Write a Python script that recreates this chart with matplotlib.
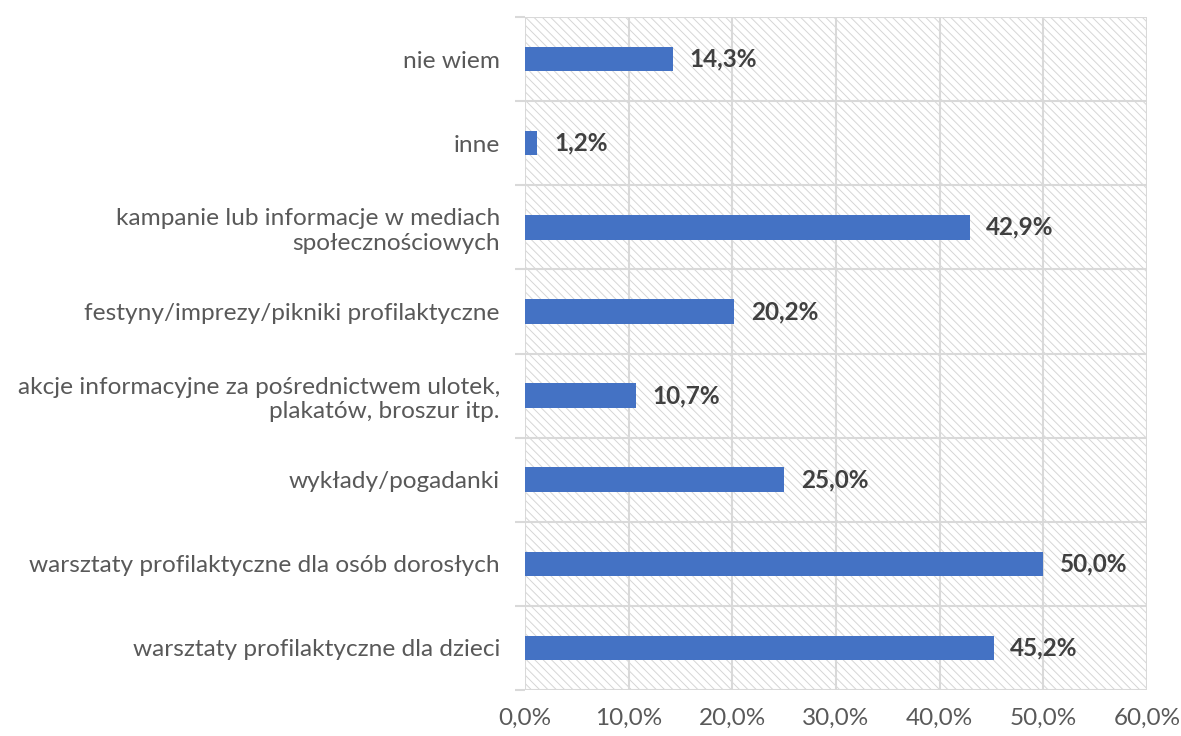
import matplotlib.pyplot as plt
import numpy as np

# kategorie od dołu do góry
kategorie = [
    "warsztaty profilaktyczne dla dzieci",
    "warsztaty profilaktyczne dla osób dorosłych",
    "wykłady/pogadanki",
    "akcje informacyjne za pośrednictwem ulotek,\nplakatów, broszur itp.",
    "festyny/imprezy/pikniki profilaktyczne",
    "kampanie lub informacje w mediach\nspołecznościowych",
    "inne",
    "nie wiem",
]
wartosci = [45.2, 50.0, 25.0, 10.7, 20.2, 42.9, 1.2, 14.3]
xticki = [0, 10, 20, 30, 40, 50, 60]

plt.rcParams['font.family'] = ['Lato', 'DejaVu Sans']
plt.rcParams['hatch.linewidth'] = 0.7

fig = plt.figure(figsize=(11.81, 7.36), dpi=100)
ax = fig.add_axes([0.4445, 0.0625, 0.9712 - 0.4445, 0.9769 - 0.0625])

# tło w ukośne paski
tlo = plt.Rectangle((0, 0), 1, 1, transform=ax.transAxes, facecolor='white',
                    edgecolor='#d6d6d6', linewidth=0, hatch='\\\\\\\\', zorder=0)
ax.add_patch(tlo)

y = np.arange(len(kategorie))
ax.barh(y, wartosci, height=0.29, color='#4472C4', zorder=3)

for yi, v in zip(y, wartosci):
    ax.annotate(f"{v:.1f}%".replace('.', ','), (v, yi), xytext=(12, 0),
                textcoords='offset points', va='center', ha='left',
                fontsize=17.5, fontweight='bold', color='#404040', zorder=4)

ax.set_xlim(0, 60)
ax.set_ylim(-0.5, len(kategorie) - 0.5)
ax.set_xticks(xticki)
ax.set_xticklabels([f"{t:.1f}%".replace('.', ',') for t in xticki])
ax.set_yticks(y)
ax.set_yticklabels(kategorie, fontsize=17.6, color='#595959')
ax.set_yticks(np.arange(-0.5, len(kategorie), 1), minor=True)

ax.tick_params(axis='x', length=0, pad=13, labelsize=17.5, labelcolor='#595959')
ax.tick_params(axis='y', which='major', length=0, pad=18)
ax.tick_params(axis='y', which='minor', length=7, width=1.5, color='#d9d9d9')

ax.grid(axis='x', color='#d9d9d9', linewidth=1.5, zorder=1)
ax.grid(axis='y', which='minor', color='#d9d9d9', linewidth=1.5, zorder=1)
ax.set_axisbelow(True)

for s in ax.spines.values():
    s.set_visible(False)

fig.savefig('out.png', dpi=100)
